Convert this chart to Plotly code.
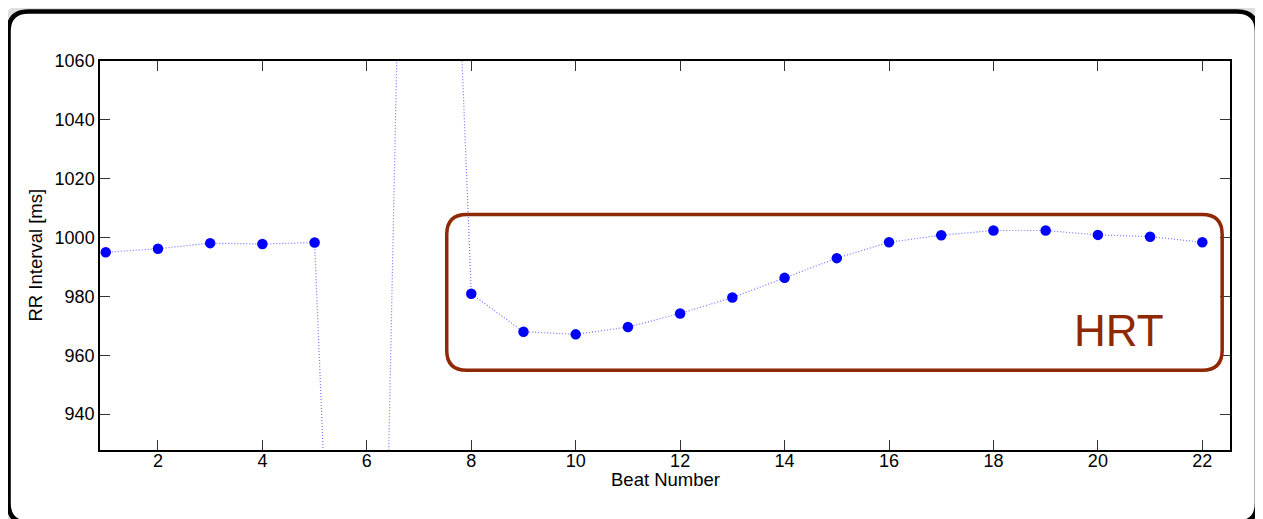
import plotly.graph_objects as go

# ---- data ----
beats = list(range(1, 23))
rr_ms = [995.0, 996.2, 998.1, 997.8, 998.3, 565.0, 1430.0, 980.9, 968.0, 967.1,
         969.6, 974.2, 979.6, 986.3, 993.0, 998.4, 1000.8, 1002.4, 1002.4,
         1000.9, 1000.3, 998.4]
x_ticks = [2, 4, 6, 8, 10, 12, 14, 16, 18, 20, 22]
y_ticks = [940, 960, 980, 1000, 1020, 1040, 1060]
hrt_box = dict(x0=7.53, x1=22.38, y0=954.9, y1=1007.8)
hrt_label = dict(x=20.41, y=968.3, text="HRT")
x_title = "Beat Number"
y_title = "RR Interval [ms]"
x_range = [0.89, 22.53]
y_range = [927.8, 1060]

# ---- layout geometry (pixels); page body has an 8px default margin ----
OFF = 8
W, H = 1263 - OFF, 519 - OFF
ML, MR, MT, MB = 100 - OFF, 33, 61 - OFF, 69
PW, PH = W - ML - MR, H - MT - MB

BROWN = "rgb(143,40,5)"
FONT = "Liberation Sans, Arial, sans-serif"

fig = go.Figure()
fig.add_trace(go.Scatter(
    x=beats, y=rr_ms, mode="lines+markers",
    line=dict(color="rgba(100,100,255,0.9)", width=1.2, dash="1px,2px"),
    marker=dict(color="#0000ff", size=10.5),
    cliponaxis=True, showlegend=False, hoverinfo="x+y"))


def rounded_path(x0, x1, y0, y1, rx, ry):
    return (f"M {x0+rx},{y0} L {x1-rx},{y0} Q {x1},{y0} {x1},{y0+ry} "
            f"L {x1},{y1-ry} Q {x1},{y1} {x1-rx},{y1} "
            f"L {x0+rx},{y1} Q {x0},{y1} {x0},{y1-ry} "
            f"L {x0},{y0+ry} Q {x0},{y0} {x0+rx},{y0} Z")


ux = PW / (x_range[1] - x_range[0])
uy = PH / (y_range[1] - y_range[0])
fig.add_shape(type="path", xref="x", yref="y",
              path=rounded_path(hrt_box["x0"], hrt_box["x1"], hrt_box["y0"], hrt_box["y1"],
                                20 / ux, 20 / uy),
              line=dict(color=BROWN, width=3.5), layer="above")

fig.add_annotation(x=hrt_label["x"], y=hrt_label["y"], xref="x", yref="y",
                   text=hrt_label["text"], showarrow=False,
                   font=dict(family=FONT, size=44, color=BROWN))

# axis titles as annotations for precise placement
fig.add_annotation(x=0.5, y=0, xref="paper", yref="paper", text=x_title,
                   showarrow=False, xanchor="center", yanchor="middle", yshift=-29,
                   font=dict(family=FONT, size=18.5, color="black"))
fig.add_annotation(x=0, y=0.5, xref="paper", yref="paper", text=y_title,
                   showarrow=False, xanchor="center", yanchor="middle", xshift=-65,
                   textangle=-90, font=dict(family=FONT, size=18.5, color="black"))


# outer rounded frame (page pixel geometry -> paper coordinates)
def px2paper_x(px):
    return (px - OFF - ML) / PW


def px2paper_y(py):
    return (OFF + MT + PH - py) / PH


fx0, fx1, fy_top, fy_bot = 8.5, 1257, 11.5, 523
r = 20
frame_path = rounded_path(px2paper_x(fx0), px2paper_x(fx1),
                          px2paper_y(fy_bot), px2paper_y(fy_top),
                          r / PW, r / PH)
shadow_path = rounded_path(px2paper_x(fx0 - 2), px2paper_x(fx1 + 2),
                           px2paper_y(fy_bot + 2), px2paper_y(fy_top - 3),
                           r / PW, r / PH)
fig.add_shape(type="path", xref="paper", yref="paper", path=shadow_path,
              line=dict(color="rgba(0,0,0,0.12)", width=9), layer="below")
fig.add_shape(type="path", xref="paper", yref="paper", path=frame_path,
              line=dict(color="black", width=4.5), layer="below")

axis_common = dict(showline=True, linecolor="black", linewidth=1.5, mirror="ticks",
                   ticks="inside", ticklen=10, tickcolor="#333", tickwidth=1,
                   showgrid=False, zeroline=False, automargin=False,
                   tickfont=dict(family=FONT, size=18, color="black"))

fig.update_layout(
    width=W, height=H,
    margin=dict(l=ML, r=MR, t=MT, b=MB),
    paper_bgcolor="white", plot_bgcolor="white",
    xaxis=dict(range=x_range, tickvals=x_ticks, ticklabelstandoff=-6, **axis_common),
    yaxis=dict(range=y_range, tickvals=y_ticks, **axis_common),
)

fig.write_html("out.html")
